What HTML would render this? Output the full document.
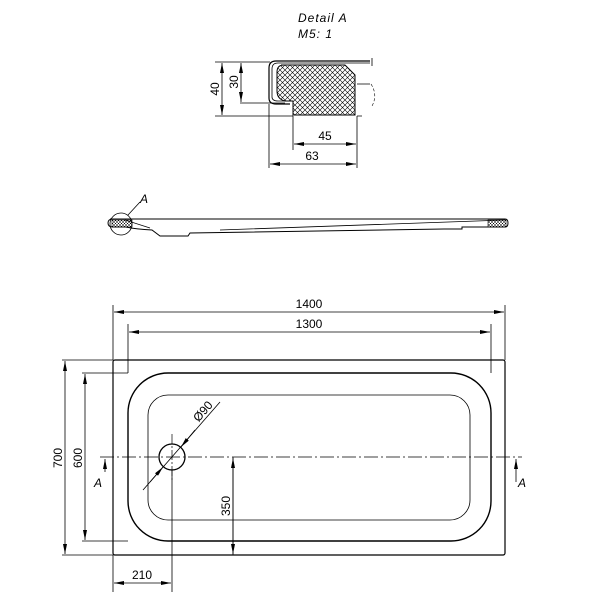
<!DOCTYPE html>
<html><head><meta charset="utf-8"><style>html,body{margin:0;padding:0;background:#fff}</style></head>
<body>
<svg width="600" height="600" viewBox="0 0 600 600" xmlns="http://www.w3.org/2000/svg" font-family="Liberation Sans, sans-serif" fill="none" stroke="#000">
<defs>
<marker id="a" viewBox="0 0 10 4" refX="10" refY="2" markerWidth="10" markerHeight="4" orient="auto-start-reverse" markerUnits="userSpaceOnUse"><path d="M0,0L10,2L0,4z" fill="#000" stroke="none"/></marker>
<pattern id="h" width="5" height="5" patternUnits="userSpaceOnUse"><path d="M0,0L5,5M5,0L0,5" stroke="#000" stroke-width="0.6"/></pattern>
<pattern id="h2" width="3" height="3" patternUnits="userSpaceOnUse"><path d="M0,0L3,3M3,0L0,3" stroke="#000" stroke-width="0.5"/></pattern>
</defs>
<!-- Detail A -->
<text x="298" y="22" font-size="12" font-style="italic" fill="#000" stroke="none" letter-spacing="1">Detail  A</text>
<text x="298" y="38" font-size="12" font-style="italic" fill="#000" stroke="none" letter-spacing="1">M5: 1</text>
<path d="M370,61 H276 Q269,61 269,68 V98 Q269,104 276,104 H290" stroke-width="1.2"/>
<path d="M370,63 H278 Q272,63 272,69 V97 Q272,101 278,101 H290" stroke-width="0.8"/>
<path d="M281,65 H345 L355,75 V115 H293 V101 H285 Q277,99 277,91 V72 Q277,65 284,65 Z" fill="url(#h)" stroke-width="1"/>
<path d="M357,84 H370 M357,116 H362 M372,58 V66" stroke-width="0.8"/>
<path d="M371,84 Q378,95 372,106" stroke-width="0.6" stroke-dasharray="3,2"/>
<path d="M215,62 H270 M240,103 H285 M215,116 H293 M269,104 V168 M293,116 V150 M357,116 V168" stroke-width="0.8"/>
<line x1="222" y1="63" x2="222" y2="115" stroke-width="0.8" marker-start="url(#a)" marker-end="url(#a)"/>
<line x1="241" y1="63" x2="241" y2="102" stroke-width="0.8" marker-start="url(#a)" marker-end="url(#a)"/>
<line x1="294" y1="144" x2="356" y2="144" stroke-width="0.8" marker-start="url(#a)" marker-end="url(#a)"/>
<line x1="270" y1="164" x2="356" y2="164" stroke-width="0.8" marker-start="url(#a)" marker-end="url(#a)"/>
<text transform="translate(219,89) rotate(-90)" text-anchor="middle" font-size="12" fill="#000" stroke="none">40</text>
<text transform="translate(238,82) rotate(-90)" text-anchor="middle" font-size="12" fill="#000" stroke="none">30</text>
<text x="325" y="140" text-anchor="middle" font-size="12" fill="#000" stroke="none">45</text>
<text x="312" y="160" text-anchor="middle" font-size="12" fill="#000" stroke="none">63</text>
<!-- side view -->
<path d="M110,219 H505 Q508,219 508,223 Q508,227 505,227 H462 V229 H444 Q300,231 190,233 L188,236 H160 L152,230 Q135,229 126,227 H113 Q108,227 108,223 Q108,219 113,219" stroke-width="1"/>
<path d="M125,220 L150,228 M220,230 L505,220" stroke-width="0.8"/>
<rect x="112" y="220" width="20" height="7" fill="url(#h2)" stroke-width="0.6"/>
<rect x="488" y="220" width="18" height="7" fill="url(#h2)" stroke-width="0.6"/>
<circle cx="121" cy="224" r="11" stroke-width="0.8"/>
<line x1="128" y1="215" x2="140" y2="202" stroke-width="0.8"/>
<text x="140" y="203" font-size="12" font-style="italic" fill="#000" stroke="none">A</text>
<!-- plan -->
<rect x="113" y="360" width="392" height="195" rx="2" stroke-width="1.2"/>
<rect x="128" y="373" width="363" height="168" rx="40" stroke-width="1.4"/>
<rect x="148" y="395" width="322" height="125" rx="20" stroke-width="0.8"/>
<line x1="100" y1="457" x2="522" y2="457" stroke-width="0.7" stroke-dasharray="14,3,2,3"/>
<line x1="172" y1="434" x2="172" y2="480" stroke-width="0.7" stroke-dasharray="10,2,2,2"/>
<circle cx="172" cy="457" r="13" stroke-width="1.3"/>
<line x1="143" y1="490" x2="220" y2="402" stroke-width="0.8"/>
<line x1="150" y1="482" x2="163" y2="467" stroke-width="0.8" marker-end="url(#a)"/>
<line x1="195" y1="430" x2="181" y2="447" stroke-width="0.8" marker-end="url(#a)"/>
<text transform="translate(206,414) rotate(-49)" text-anchor="middle" font-size="12" fill="#000" stroke="none">Ø90</text>
<!-- dims -->
<path d="M113,305 V360 M505,305 V360 M128,324 V373 M491,324 V373 M62,360 H113 M62,555 H113 M82,373 H128 M82,541 H128 M113,555 V592 M172,470 V592 M233,457 V555" stroke-width="0.8"/>
<line x1="114" y1="312" x2="504" y2="312" stroke-width="0.8" marker-start="url(#a)" marker-end="url(#a)"/>
<line x1="129" y1="332" x2="490" y2="332" stroke-width="0.8" marker-start="url(#a)" marker-end="url(#a)"/>
<line x1="65" y1="361" x2="65" y2="554" stroke-width="0.8" marker-start="url(#a)" marker-end="url(#a)"/>
<line x1="85" y1="374" x2="85" y2="540" stroke-width="0.8" marker-start="url(#a)" marker-end="url(#a)"/>
<line x1="233" y1="458" x2="233" y2="554" stroke-width="0.8" marker-start="url(#a)" marker-end="url(#a)"/>
<line x1="114" y1="583" x2="171" y2="583" stroke-width="0.8" marker-start="url(#a)" marker-end="url(#a)"/>
<text x="309" y="308" text-anchor="middle" font-size="12" fill="#000" stroke="none">1400</text>
<text x="309" y="328" text-anchor="middle" font-size="12" fill="#000" stroke="none">1300</text>
<text transform="translate(62,458) rotate(-90)" text-anchor="middle" font-size="12" fill="#000" stroke="none">700</text>
<text transform="translate(82,458) rotate(-90)" text-anchor="middle" font-size="12" fill="#000" stroke="none">600</text>
<text transform="translate(230,506) rotate(-90)" text-anchor="middle" font-size="12" fill="#000" stroke="none">350</text>
<text x="142" y="579" text-anchor="middle" font-size="12" fill="#000" stroke="none">210</text>
<line x1="105" y1="472" x2="105" y2="459" stroke-width="0.8" marker-end="url(#a)"/>
<line x1="516" y1="482" x2="516" y2="459" stroke-width="0.8" marker-end="url(#a)"/>
<text x="94" y="487" font-size="12" font-style="italic" fill="#000" stroke="none">A</text>
<text x="518" y="487" font-size="12" font-style="italic" fill="#000" stroke="none">A</text>
</svg>
</body></html>
